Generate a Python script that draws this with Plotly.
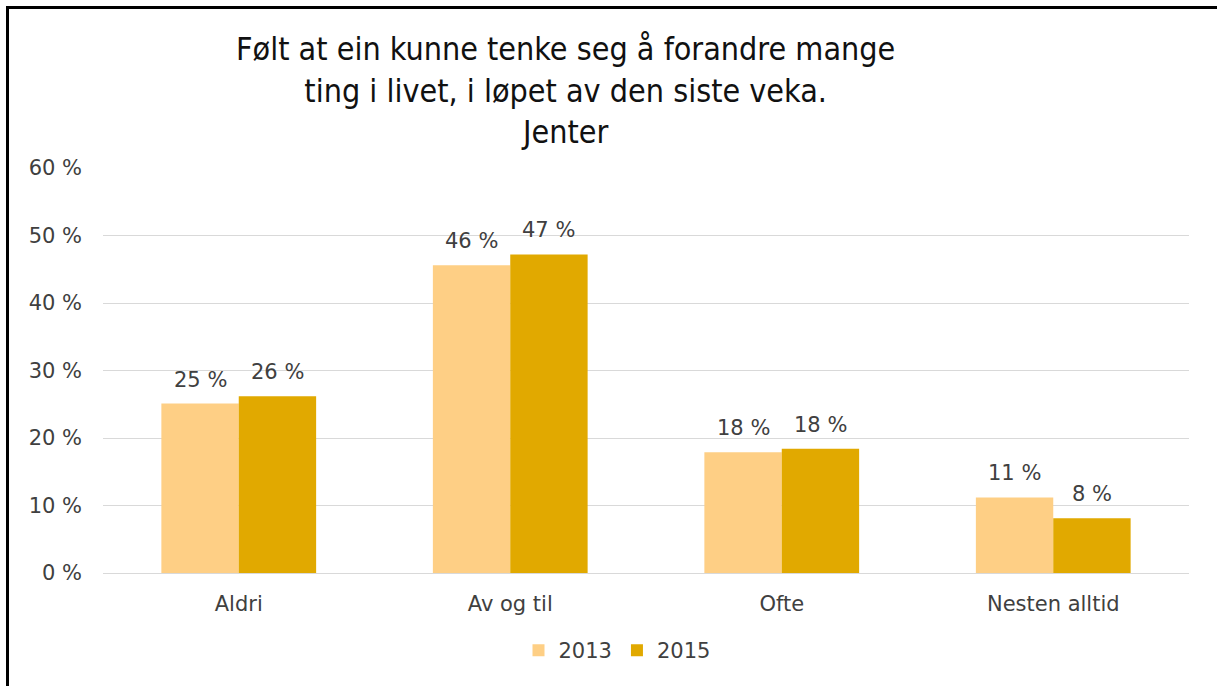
import plotly.graph_objects as go

categories = ["Aldri", "Av og til", "Ofte", "Nesten alltid"]
series_names = ["2013", "2015"]
vals_2013 = [25.1, 45.6, 17.9, 11.2]
vals_2015 = [26.2, 47.2, 18.4, 8.1]
labels_2013 = ["25 %", "46 %", "18 %", "11 %"]
labels_2015 = ["26 %", "47 %", "18 %", "8 %"]
title_lines = [
    "Følt at ein kunne tenke seg å forandre mange",
    "ting i livet, i løpet av den siste veka.",
    "Jenter",
]

colors = ["#FECF85", "#E1A900"]
axis_font = dict(family="DejaVu Sans, Verdana, sans-serif", size=21, color="#404040")

W, H = 1217, 686
L, R, T, B = 103, 28, 168, 113
plot_w, plot_h = W - L - R, H - T - B
bargap = 0.43

fig = go.Figure()
for name, vals, col in zip(series_names, [vals_2013, vals_2015], colors):
    fig.add_trace(go.Bar(name=name, x=categories, y=vals, marker=dict(color=col, line=dict(width=0))))

# data labels above each bar (offset to the bar centre within the group)
bar_px = plot_w / len(categories) * (1 - bargap) / 2
annotations = []
for k, (vals, labels) in enumerate([(vals_2013, labels_2013), (vals_2015, labels_2015)]):
    for cat, v, lab in zip(categories, vals, labels):
        annotations.append(dict(
            x=cat, y=v, xref="x", yref="y", text=lab, showarrow=False,
            xanchor="center", yanchor="middle", yshift=24,
            xshift=(k - 0.5) * bar_px, font=axis_font,
        ))

# title, one block of three centred lines
annotations.append(dict(
    x=(565 - L) / plot_w, y=(H - B - 91) / plot_h, xref="paper", yref="paper",
    text="<br>".join(title_lines), showarrow=False, align="center",
    xanchor="center", yanchor="middle",
    font=dict(family="DejaVu Sans Condensed, DejaVu Sans, sans-serif", size=32, color="#111111"),
))

fig.update_layout(
    width=W, height=H,
    margin=dict(l=L, r=R, t=T, b=B),
    paper_bgcolor="white", plot_bgcolor="white",
    barmode="group", bargap=bargap, bargroupgap=0,
    font=axis_font,
    showlegend=True,
    legend=dict(
        orientation="h", x=(617 - L) / plot_w, xanchor="center", y=-0.141, yanchor="top",
        font=axis_font, traceorder="normal",
    ),
    yaxis=dict(
        range=[0, 60], dtick=10, ticksuffix=" %",
        showgrid=True, gridcolor="#D9D9D9", gridwidth=1,
        zeroline=True, zerolinecolor="#D9D9D9", zerolinewidth=1,
        showline=False, ticklabelstandoff=20, tickfont=axis_font,
    ),
    xaxis=dict(showline=False, tickfont=axis_font, ticklabelstandoff=16),
    annotations=annotations,
    shapes=[dict(
        type="rect", xref="paper", yref="paper",
        x0=(7.5 - L) / plot_w, x1=(W + 10 - L) / plot_w,
        y0=(H - B - H - 10) / plot_h, y1=(H - B - 7.5) / plot_h,
        line=dict(color="black", width=3), fillcolor="rgba(0,0,0,0)",
    )],
)

fig.write_html("out.html", config={"displayModeBar": False},
               post_script="document.body.style.margin='0';")
